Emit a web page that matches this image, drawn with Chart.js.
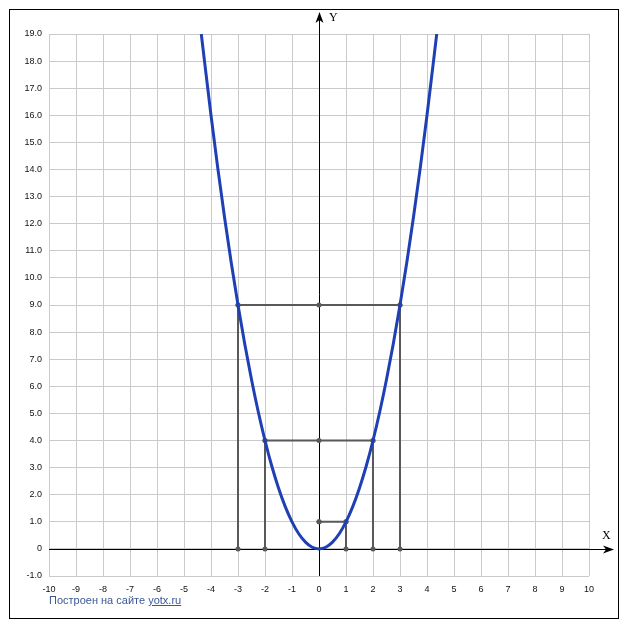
<!DOCTYPE html>
<html>
<head>
<meta charset="utf-8">
<script src="https://cdn.jsdelivr.net/npm/chart.js@4"></script>
<style>
  body { margin: 0; background: #fff; }
  #wrap { position: relative; width: 627px; height: 630px; }
  #note {
    position: absolute; left: 49px; top: 594px;
    font: 11px "Liberation Sans", Arial, sans-serif; color: #3a5795;
  }
  #note span { text-decoration: underline; }
</style>
</head>
<body>
<div id="wrap">
  <canvas id="myChart" width="627" height="630"></canvas>
  <div id="note">Построен на сайте <span>yotx.ru</span></div>
</div>
<script>
// парабола y = x^2, точки
const curveX = [-4.36, -4, -3.75, -3.5, -3.25, -3, -2.75, -2.5, -2.25, -2, -1.75, -1.5, -1.25, -1, -0.75, -0.5, -0.25, 0,
                0.25, 0.5, 0.75, 1, 1.25, 1.5, 1.75, 2, 2.25, 2.5, 2.75, 3, 3.25, 3.5, 3.75, 4, 4.36];
const curveY = [19, 16, 14.06, 12.25, 10.56, 9, 7.56, 6.25, 5.06, 4, 3.06, 2.25, 1.56, 1, 0.56, 0.25, 0.06, 0,
                0.06, 0.25, 0.56, 1, 1.56, 2.25, 3.06, 4, 5.06, 6.25, 7.56, 9, 10.56, 12.25, 14.06, 16, 19];

// вертикальные отрезки от оси X до параболы
const markX = [-3, -2, 1, 2, 3];
const markY = [9, 4, 1, 4, 9];
// горизонтальные отрезки до оси Y
const levelY = [9, 4, 1];
const levelFrom = [-3, -2, 0];
const levelTo = [3, 2, 1];

const xTickLabels = ['-10', '-9', '-8', '-7', '-6', '-5', '-4', '-3', '-2', '-1', '0', '1', '2', '3', '4', '5', '6', '7', '8', '9', '10'];
const yTickLabels = ['-1.0', '0', '1.0', '2.0', '3.0', '4.0', '5.0', '6.0', '7.0', '8.0', '9.0', '10.0', '11.0', '12.0',
                     '13.0', '14.0', '15.0', '16.0', '17.0', '18.0', '19.0'];

const grey = '#595959';
let datasets = [{
    data: curveX.map((x, i) => ({ x: x, y: curveY[i] })),
    showLine: true,
    borderColor: '#1f3fb4',
    borderWidth: 3,
    pointRadius: 0,
    cubicInterpolationMode: 'monotone',
}];
for (let i = 0; i < markX.length; i++) {
    datasets.push({
        data: [{ x: markX[i], y: 0 }, { x: markX[i], y: markY[i] }],
        showLine: true, borderColor: grey, borderWidth: 2,
        pointRadius: 2.5, pointBackgroundColor: grey, pointBorderWidth: 0,
    });
}
for (let i = 0; i < levelY.length; i++) {
    datasets.push({
        data: [{ x: levelFrom[i], y: levelY[i] }, { x: levelTo[i], y: levelY[i] }, { x: 0, y: levelY[i] }],
        showLine: true, borderColor: grey, borderWidth: 2,
        pointRadius: 2.5, pointBackgroundColor: grey, pointBorderWidth: 0,
    });
}

function arrow(ctx, tx, ty, dx, dy) {
    // наконечник стрелки, смотрит в сторону (dx, dy)
    const px = -dy, py = dx;
    ctx.beginPath();
    ctx.moveTo(tx, ty);
    ctx.lineTo(tx - dx * 11 + px * 4, ty - dy * 11 + py * 4);
    ctx.lineTo(tx - dx * 8, ty - dy * 8);
    ctx.lineTo(tx - dx * 11 - px * 4, ty - dy * 11 - py * 4);
    ctx.closePath();
    ctx.fill();
}

const axesPlugin = {
    id: 'axesPlugin',
    beforeDatasetsDraw(chart) {
        const ctx = chart.ctx;
        const xs = chart.scales.x, ys = chart.scales.y;
        const ox = Math.round(xs.getPixelForValue(0)) + 0.5;
        const oy = Math.round(ys.getPixelForValue(0)) + 0.5;
        ctx.save();
        ctx.strokeStyle = '#000';
        ctx.fillStyle = '#000';
        ctx.lineWidth = 1;
        ctx.beginPath();
        ctx.moveTo(chart.chartArea.left, oy);
        ctx.lineTo(613, oy);
        ctx.moveTo(ox, chart.chartArea.bottom);
        ctx.lineTo(ox, 13);
        ctx.stroke();
        arrow(ctx, 614, oy, 1, 0);
        arrow(ctx, ox, 12, 0, -1);
        ctx.font = '12px "Liberation Serif", serif';
        ctx.textBaseline = 'alphabetic';
        ctx.fillText('X', 602, 539);
        ctx.fillText('Y', 329, 21);
        ctx.restore();
    },
    afterDraw(chart) {
        const ctx = chart.ctx;
        ctx.save();
        ctx.strokeStyle = '#000';
        ctx.lineWidth = 1;
        ctx.strokeRect(9.5, 9.5, 609, 609);
        ctx.restore();
    }
};

const tickFont = { family: '"Liberation Sans", Arial, sans-serif', size: 9 };

new Chart(document.getElementById('myChart').getContext('2d'), {
    type: 'scatter',
    data: { datasets: datasets },
    options: {
        responsive: false,
        animation: false,
        layout: { padding: { left: 0, top: 34, right: 38, bottom: 24 } },
        scales: {
            x: {
                type: 'linear', min: -10, max: 10,
                afterFit: (s) => { s.height = 30; },
                grid: { color: '#cacaca', drawTicks: false },
                border: { display: false },
                ticks: {
                    stepSize: 1, padding: 8, color: '#111', font: tickFont, maxRotation: 0, autoSkip: false,
                    callback: (v) => xTickLabels[v + 10],
                },
            },
            y: {
                type: 'linear', min: -1, max: 19,
                afterFit: (s) => { s.width = 49; },
                grid: { color: '#cacaca', drawTicks: false },
                border: { display: false },
                ticks: {
                    stepSize: 1, padding: 7, color: '#111', font: tickFont, autoSkip: false,
                    callback: (v) => yTickLabels[v + 1],
                },
            },
        },
        plugins: {
            legend: { display: false },
            tooltip: { enabled: false },
        },
    },
    plugins: [axesPlugin],
});
</script>
</body>
</html>
